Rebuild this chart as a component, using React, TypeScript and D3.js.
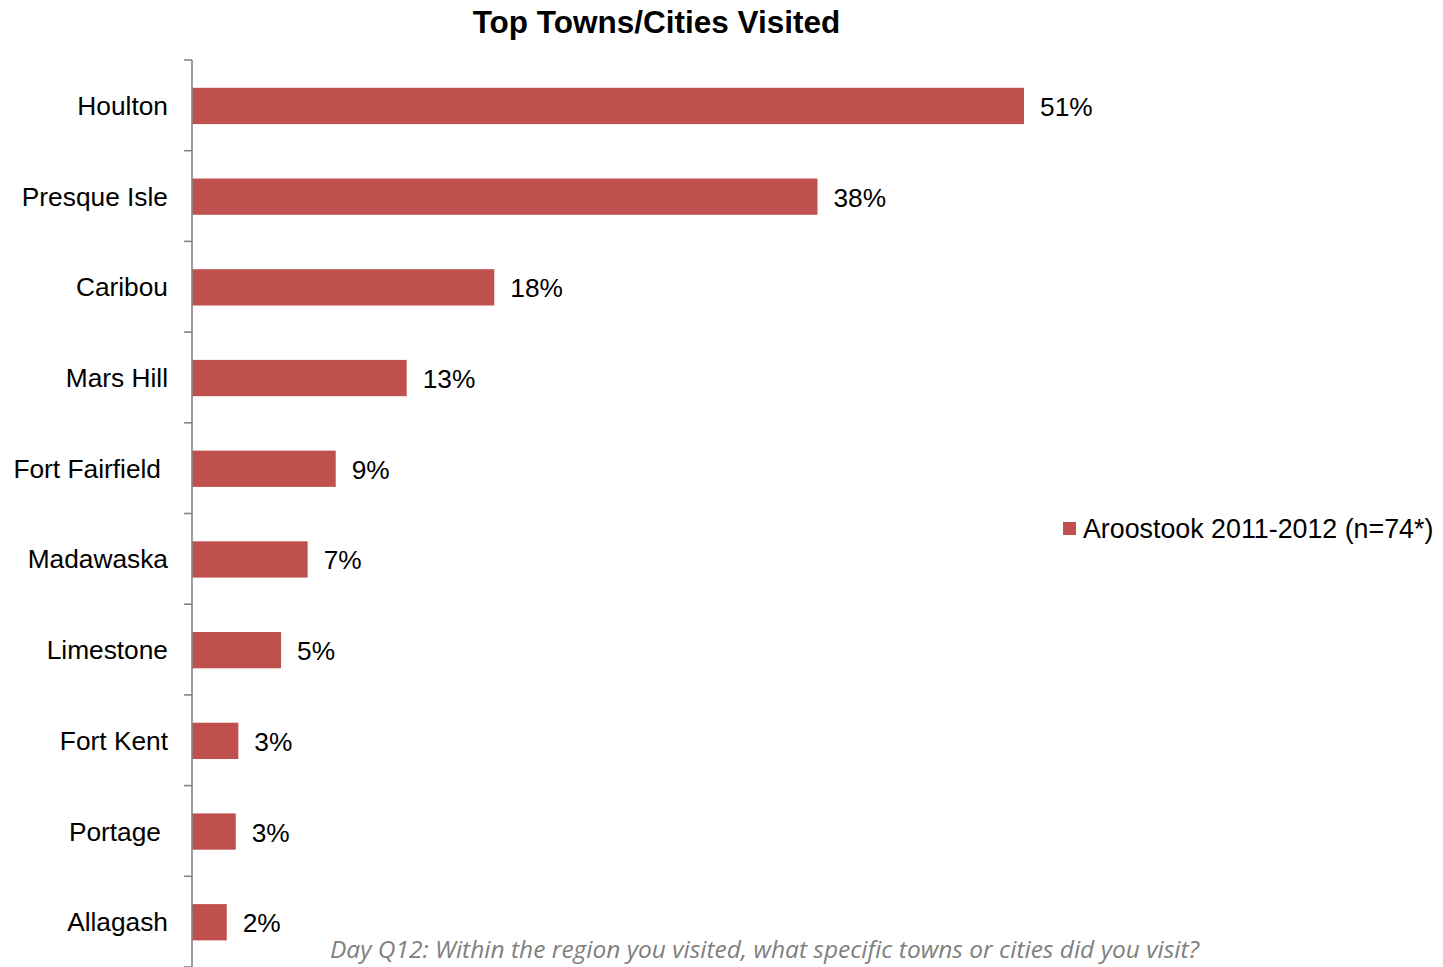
import React from "react";
import * as d3 from "d3";

const categories = ["Houlton", "Presque Isle", "Caribou", "Mars Hill", "Fort Fairfield", "Madawaska", "Limestone", "Fort Kent", "Portage", "Allagash"];
const values = [51.0, 38.34, 18.53, 13.16, 8.81, 7.09, 5.46, 2.84, 2.68, 2.13];
const valueLabels = ["51%", "38%", "18%", "13%", "9%", "7%", "5%", "3%", "3%", "2%"];
const labelPad = [0, 0, 0, 0, 7, 0, 0, 0, 7, 0];
const seriesName = "Aroostook 2011-2012 (n=74*)";
const title = "Top Towns/Cities Visited";
const footnote = "Day Q12: Within the region you visited, what specific towns or cities did you visit?";

const W = 1443;
const H = 967;
const BAR = "#C0504D";
const AXIS = "#868686";
const FONT = "'Liberation Sans', Arial, sans-serif";

export default function App() {
  const x = d3.scaleLinear().domain([0, 51]).range([192, 1024]);
  const y = d3.scaleBand<string>().domain(categories).range([60.6, 967.6]).paddingInner(0.6).paddingOuter(0.3);
  const step = y.step();
  const tickYs = d3.range(categories.length + 1).map((i) => 60 + i * step);

  return (
    <svg width={W} height={H} style={{ position: "absolute", left: 0, top: 0, background: "#fff" }}>
      <text x={656.5} y={33} textAnchor="middle" fontFamily={FONT} fontWeight="bold" fontSize={31.5} fill="#000">
        {title}
      </text>
      {categories.map((c, i) => (
        <g key={c}>
          <rect x={x(0)} y={y(c)!} width={x(values[i]) - x(0)} height={y.bandwidth()} fill={BAR} />
          <text
            x={x(values[i]) + 16}
            y={y(c)! + y.bandwidth() / 2 + 1}
            dominantBaseline="central"
            fontFamily={FONT}
            fontSize={26.3}
            fill="#000"
          >
            {valueLabels[i]}
          </text>
          <text
            x={168 - labelPad[i]}
            y={y(c)! + y.bandwidth() / 2}
            dominantBaseline="central"
            textAnchor="end"
            fontFamily={FONT}
            fontSize={26.3}
            fill="#000"
          >
            {c}
          </text>
        </g>
      ))}
      <line x1={192} x2={192} y1={60} y2={967} stroke={AXIS} strokeWidth={1.6} />
      {tickYs.map((ty, i) => (
        <line key={i} x1={184} x2={192} y1={ty} y2={ty} stroke={AXIS} strokeWidth={1.6} />
      ))}
      <rect x={1063} y={522} width={13} height={13} fill={BAR} />
      <text x={1083} y={529} dominantBaseline="central" fontFamily={FONT} fontSize={26.8} fill="#000">
        {seriesName}
      </text>
      <text x={330} y={958} fontFamily="'Open Sans', Carlito, sans-serif" fontStyle="italic" fontSize={24.5} fill="#7f7f7f">
        {footnote}
      </text>
    </svg>
  );
}
